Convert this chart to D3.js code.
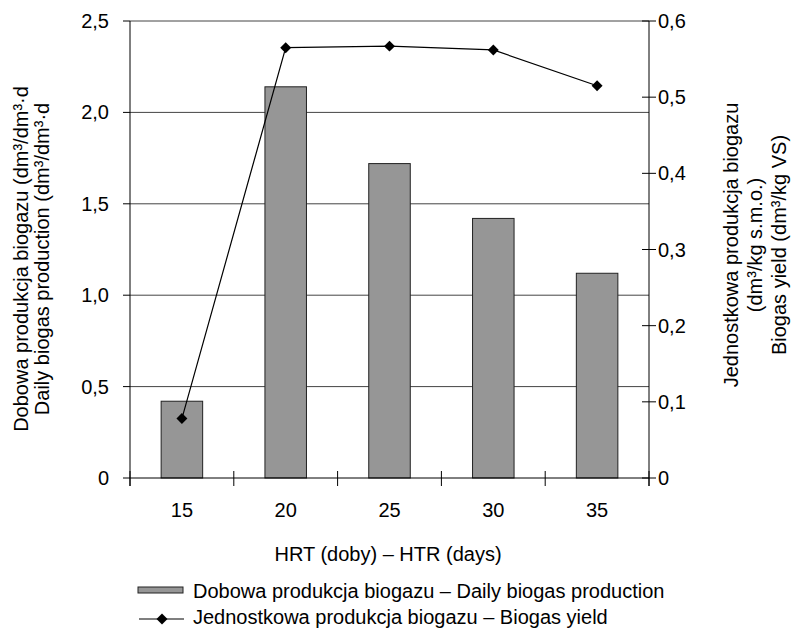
<!DOCTYPE html>
<html>
<head>
<meta charset="utf-8">
<script src="https://cdn.jsdelivr.net/npm/d3@7"></script>
<style>
  body { margin: 0; background: #fff; }
  text { font-family: "Liberation Sans", Arial, sans-serif; fill: #000; }
</style>
</head>
<body>
<svg width="792" height="629"></svg>
<script>
// HRT values (days)
var categories = ["15", "20", "25", "30", "35"];
// daily biogas production (dm3/dm3·d) - bars, left axis
var dailyProduction = [0.42, 2.14, 1.72, 1.42, 1.12];
// biogas yield (dm3/kg VS) - line, right axis
var biogasYield = [0.078, 0.565, 0.567, 0.562, 0.515];
var leftTicks = [0, 0.5, 1.0, 1.5, 2.0, 2.5];
var rightTicks = [0, 0.1, 0.2, 0.3, 0.4, 0.5, 0.6];

var svg = d3.select("svg");
var plotLeft = 130, plotRight = 649, plotTop = 21, plotBottom = 478;
var fontSize = 20;

var x = d3.scaleBand().domain(categories).range([plotLeft, plotRight])
    .paddingInner(0.6).paddingOuter(0.3);
var yL = d3.scaleLinear().domain([0, 2.5]).range([plotBottom, plotTop]);
var yR = d3.scaleLinear().domain([0, 0.6]).range([plotBottom, plotTop]);

function fmt(v) {
    return v === 0 ? "0" : (v.toFixed(1)).replace(".", ",");
}

// gridlines
svg.append("g").selectAll("line").data(leftTicks.slice(1)).enter().append("line")
    .attr("x1", plotLeft).attr("x2", plotRight)
    .attr("y1", d => yL(d)).attr("y2", d => yL(d))
    .attr("stroke", "#444").attr("stroke-width", 1);

// bars
svg.append("g").selectAll("rect").data(dailyProduction).enter().append("rect")
    .attr("x", (d, i) => x(categories[i]))
    .attr("width", x.bandwidth())
    .attr("y", d => yL(d))
    .attr("height", d => yL(0) - yL(d))
    .attr("fill", "#969696").attr("stroke", "#222").attr("stroke-width", 1);

// left axis
var gl = svg.append("g").attr("transform", "translate(" + plotLeft + ",0)");
gl.append("line").attr("y1", plotTop).attr("y2", plotBottom + 8).attr("stroke", "#000");
gl.selectAll(".t").data(leftTicks).enter().append("line")
    .attr("x1", -7).attr("x2", 0).attr("y1", d => yL(d)).attr("y2", d => yL(d))
    .attr("stroke", "#000");
gl.selectAll("text").data(leftTicks).enter().append("text")
    .attr("x", -21).attr("y", d => yL(d)).attr("dy", "0.35em")
    .attr("text-anchor", "end").style("font-size", fontSize + "px")
    .text(fmt);

// right axis
var gr = svg.append("g").attr("transform", "translate(" + plotRight + ",0)");
gr.append("line").attr("y1", plotTop).attr("y2", plotBottom + 8).attr("stroke", "#000");
gr.selectAll(".t").data(rightTicks).enter().append("line")
    .attr("x1", -7).attr("x2", 7).attr("y1", d => yR(d)).attr("y2", d => yR(d))
    .attr("stroke", "#000");
gr.selectAll("text").data(rightTicks).enter().append("text")
    .attr("x", 9).attr("y", d => yR(d)).attr("dy", "0.35em")
    .style("font-size", fontSize + "px")
    .text(fmt);

// bottom axis
var gb = svg.append("g");
gb.append("line").attr("x1", plotLeft).attr("x2", plotRight)
    .attr("y1", plotBottom).attr("y2", plotBottom).attr("stroke", "#000");
var bounds = d3.range(categories.length + 1).map(i => plotLeft + i * x.step());
gb.selectAll(".t").data(bounds).enter().append("line")
    .attr("x1", d => d).attr("x2", d => d)
    .attr("y1", plotBottom - 7).attr("y2", plotBottom + 8).attr("stroke", "#000");
gb.selectAll("text").data(categories).enter().append("text")
    .attr("x", d => x(d) + x.bandwidth() / 2).attr("y", 517)
    .attr("text-anchor", "middle").style("font-size", fontSize + "px")
    .text(d => d);

// yield line
var line = d3.line()
    .x((d, i) => x(categories[i]) + x.bandwidth() / 2)
    .y(d => yR(d));
svg.append("path").datum(biogasYield).attr("d", line)
    .attr("fill", "none").attr("stroke", "#000").attr("stroke-width", 1.2);
var sym = d3.symbol().type(d3.symbolSquare).size(60);
svg.append("g").selectAll("path").data(biogasYield).enter().append("path")
    .attr("d", sym)
    .attr("transform", (d, i) => "translate(" + (x(categories[i]) + x.bandwidth() / 2) + "," + yR(d) + ") rotate(45)")
    .attr("fill", "#000");

// axis titles
svg.append("text").attr("x", 388).attr("y", 561).attr("text-anchor", "middle")
    .style("font-size", fontSize + "px").text("HRT (doby) – HTR (days)");

var lt = svg.append("text").attr("transform", "translate(27.5,259) rotate(-90)")
    .attr("text-anchor", "middle").style("font-size", fontSize + "px");
lt.append("tspan").attr("x", 0).attr("y", 0).text("Dobowa produkcja biogazu (dm³/dm³·d");
lt.append("tspan").attr("x", 0).attr("y", 21.5).text("Daily biogas production (dm³/dm³·d");

var rt = svg.append("text").attr("transform", "translate(738,245) rotate(-90)")
    .attr("text-anchor", "middle").style("font-size", fontSize + "px");
rt.append("tspan").attr("x", 0).attr("y", 0).text("Jednostkowa produkcja biogazu");
rt.append("tspan").attr("x", 0).attr("y", 24).text("(dm³/kg s.m.o.)");
rt.append("tspan").attr("x", 0).attr("y", 48).text("Biogas yield (dm³/kg VS)");

// legend
var lg = svg.append("g");
lg.append("rect").attr("x", 138).attr("y", 587).attr("width", 45).attr("height", 6)
    .attr("fill", "#969696").attr("stroke", "#222");
lg.append("text").attr("x", 193).attr("y", 598).style("font-size", fontSize + "px")
    .text("Dobowa produkcja biogazu – Daily biogas production");
lg.append("line").attr("x1", 139).attr("x2", 184).attr("y1", 619).attr("y2", 619)
    .attr("stroke", "#000").attr("stroke-width", 1.2);
lg.append("path").attr("d", sym).attr("transform", "translate(162,619) rotate(45)")
    .attr("fill", "#000");
lg.append("text").attr("x", 193).attr("y", 624).style("font-size", fontSize + "px")
    .text("Jednostkowa produkcja biogazu – Biogas yield");
</script>
</body>
</html>
